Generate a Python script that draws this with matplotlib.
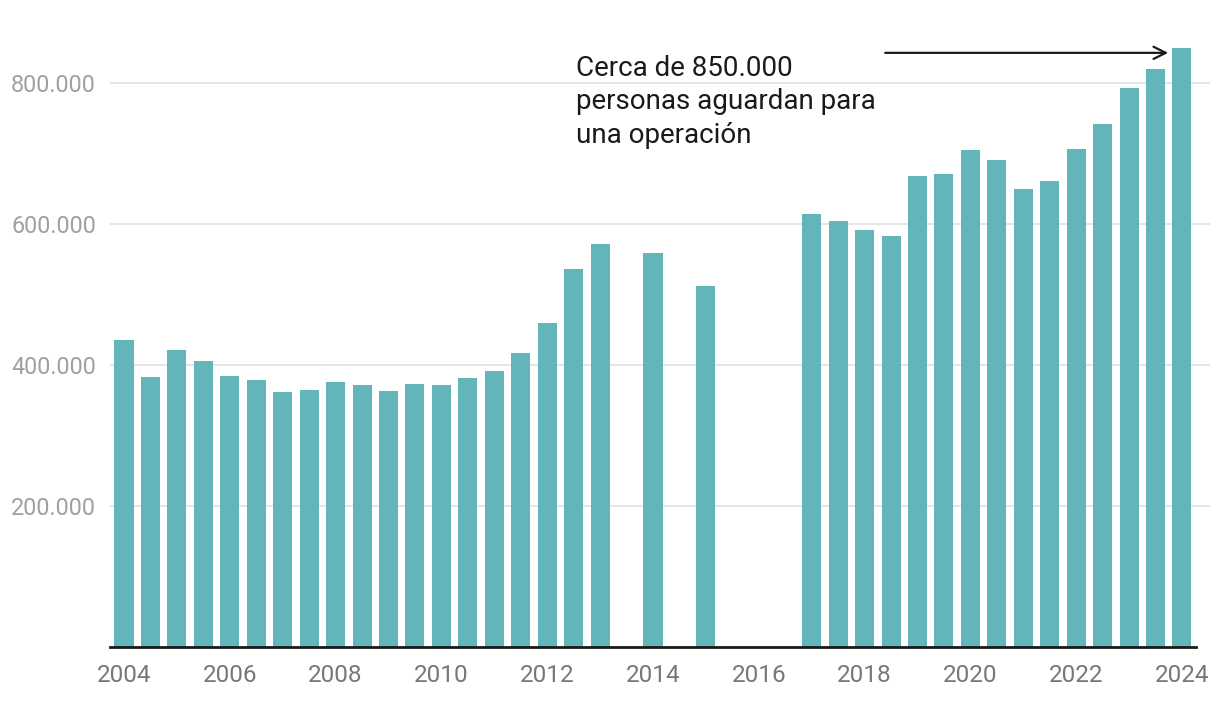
import numpy as np
import matplotlib.pyplot as plt
from matplotlib.ticker import FuncFormatter

plt.rcParams['font.family'] = ['Roboto', 'DejaVu Sans']

# --- Datos: lista de espera (semestral), miles de personas
primer_anio = 2004
espera = [435, 383, 421, 406, 384, 379, 362, 365, 376, 372,
          363, 373, 372, 382, 391, 417, 460, 536, 572, np.nan,
          559, np.nan, 512, np.nan, np.nan, np.nan, 614, 604, 591, 583,
          668, 671, 705, 691, 650, 661, 706, 742, 793, 820,
          850]
ticks_x = [2004, 2006, 2008, 2010, 2012, 2014, 2016, 2018, 2020, 2022, 2024]
ticks_y = [200000, 400000, 600000, 800000]
texto = "Cerca de 850.000\npersonas aguardan para\nuna operación"

periodos = primer_anio + np.arange(len(espera)) * 0.5
valores = np.array(espera) * 1000

fig = plt.figure(figsize=(12.2, 7.04), dpi=100)
ax = fig.add_axes([110 / 1220, 57 / 704, 1100 / 1220, 617 / 704])

ax.bar(periodos, valores, width=0.36, color='#62b5b8', zorder=2)

ax.set_xlim(2003.735, 2024.53)
ax.set_ylim(0, 875000)

ax.set_yticks(ticks_y)
ax.yaxis.set_major_formatter(FuncFormatter(lambda v, p: f'{v:,.0f}'.replace(',', '.')))
ax.set_xticks(ticks_x)
ax.tick_params(axis='y', length=0, pad=10, labelsize=16.8, labelcolor='#a0a0a0')
ax.tick_params(axis='x', length=0, pad=12, labelsize=17.5, labelcolor='#777777')
ax.grid(axis='y', color='#e3e3e3', linewidth=1.3, zorder=0)

for s in ['top', 'right', 'left']:
    ax.spines[s].set_visible(False)
ax.spines['bottom'].set_bounds(2003.735, 2024.265)
ax.spines['bottom'].set_linewidth(2)
ax.spines['bottom'].set_color('#1a1a1a')
ax.spines['bottom'].set_zorder(3)

# Anotación
ax.annotate('', xy=(2023.74, 842600), xytext=(2018.39, 842600),
            arrowprops=dict(arrowstyle='->', color='#1a1a1a', lw=1.6,
                            mutation_scale=22, shrinkA=0, shrinkB=0))
ax.text(2012.54, 839000, texto, fontsize=20, color='#1a1a1a',
        va='top', ha='left', linespacing=1.29)

fig.savefig('out.png', dpi=100)
